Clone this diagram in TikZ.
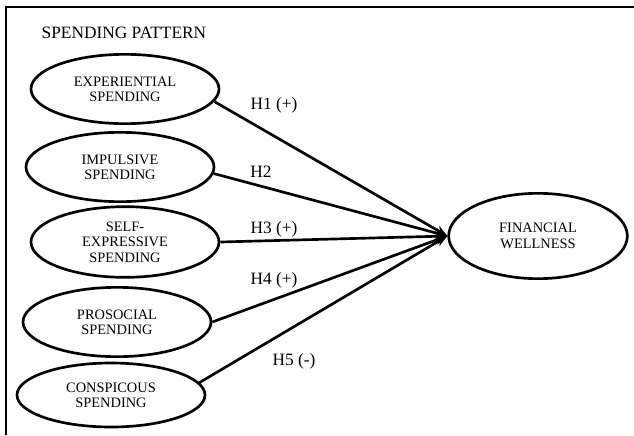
\documentclass[tikz,border=0pt]{standalone}
\usepackage{fontspec}
\setmainfont{Liberation Serif}
\usetikzlibrary{shapes.geometric,positioning,arrows.meta}

\begin{document}
\begin{tikzpicture}[x=0.75pt,y=0.75pt,
  spend/.style={ellipse, draw, line width=2pt, minimum width=141pt, minimum height=52pt,
    inner sep=1pt, align=center, font=\fontsize{10.8}{11.5}\selectfont},
  hyp/.style={font=\fontsize{13}{14}\selectfont},
  link/.style={line width=2pt, -{Stealth[length=9pt,width=7pt]}},
  node distance=78 and 0, on grid]

  \useasboundingbox (0,0) rectangle (634,-435);
  % Frame
  \draw[line width=1.8pt] (6,-435) -- (6,-7) -- (634,-7);

  % Spending pattern
  \node[hyp, anchor=west] (title) at (37,-33) {SPENDING PATTERN};
  \node[spend] (exp) at (125,-89) {EXPERIENTIAL\\SPENDING};
  \node[spend, below=78 of exp, xshift=-3.75pt] (imp) {IMPULSIVE\\SPENDING};
  \node[spend, below=75 of imp, xshift=3.75pt, minimum height=53pt] (self) {SELF-\\EXPRESSIVE\\SPENDING};
  \node[spend, below=80 of self, xshift=-6pt] (pro) {PROSOCIAL\\SPENDING};
  \node[spend, below=73 of pro, xshift=-4.5pt, minimum height=48pt] (con) {CONSPICOUS\\SPENDING};

  % Outcome
  \node[spend, right=413 of self, yshift=4.5pt, minimum width=134pt, minimum height=64pt] (fin) {FINANCIAL\\WELLNESS};

  % Hypotheses
  \draw[link] (exp.-8) -- (fin.west);
  \draw[link] (imp.-4) -- (fin.west);
  \draw[link] (self.east) -- (fin.west);
  \draw[link] (pro.east) -- (fin.west);
  \draw[link] (con.8) -- (fin.west);

  \node[hyp] (h1) at (274,-105) {H1 (+)};
  \node[hyp] (h2) at (261,-172) {H2};
  \node[hyp] (h3) at (274,-229) {H3 (+)};
  \node[hyp] (h4) at (274,-280) {H4 (+)};
  \node[hyp] (h5) at (294,-361) {H5 (-)};
\end{tikzpicture}
\end{document}
